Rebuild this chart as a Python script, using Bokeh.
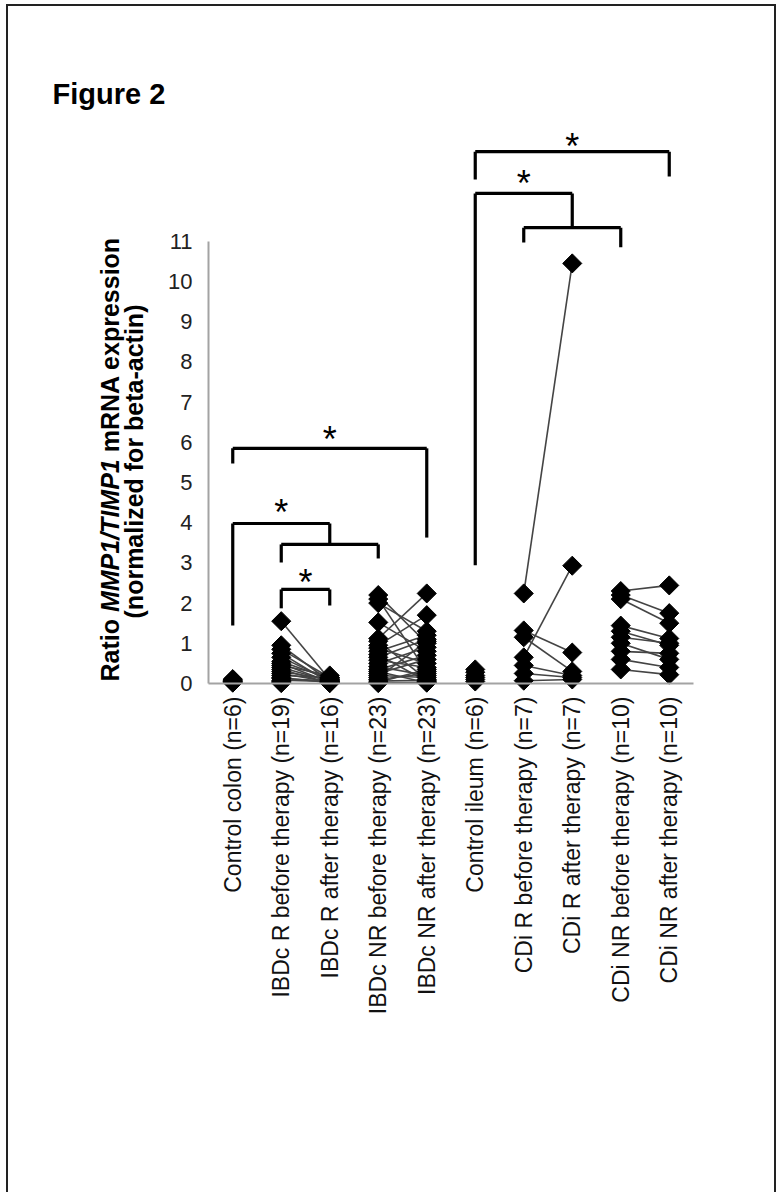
import math
from bokeh.plotting import figure
from bokeh.models import Range1d, FixedTicker, Label, LinearAxis
from bokeh.core.properties import value
from bokeh.embed import file_html
from bokeh.resources import INLINE

# ---------------- data ----------------
categories = [
    "Control colon (n=6)",
    "IBDc R before therapy (n=19)",
    "IBDc R after therapy (n=16)",
    "IBDc NR before therapy (n=23)",
    "IBDc NR after therapy (n=23)",
    "Control ileum (n=6)",
    "CDi R before therapy (n=7)",
    "CDi R after therapy (n=7)",
    "CDi NR before therapy (n=10)",
    "CDi NR after therapy (n=10)",
]
y_ticks = list(range(0, 12))

control_colon = [0.02, 0.04, 0.05, 0.07, 0.09, 0.11]
ibdc_r_before = [1.55, 0.95, 0.85, 0.75, 0.65, 0.55, 0.5, 0.45, 0.4, 0.35,
                 0.3, 0.25, 0.2, 0.15, 0.12, 0.08, 0.05, 0.03, 0.01]
ibdc_r_after = [0.1, 0.05, 0.15, 0.02, 0.08, 0.12, 0.03, 0.2, 0.06, 0.01,
                0.1, 0.04, 0.15, 0.02, 0.07, 0.05]
ibdc_nr_before = [2.2, 2.1, 2.0, 1.52, 1.12, 1.05, 0.95, 0.88, 0.8, 0.72, 0.65,
                  0.58, 0.5, 0.42, 0.35, 0.3, 0.25, 0.2, 0.15, 0.1, 0.06, 0.03, 0.01]
ibdc_nr_after = [1.0, 0.3, 1.3, 0.8, 2.24, 0.1, 1.7, 0.5, 1.2, 0.05, 1.1,
                 0.4, 0.9, 0.2, 0.7, 0.02, 0.6, 0.15, 1.05, 0.25, 0.08, 0.35, 0.03]
control_ileum = [0.05, 0.1, 0.15, 0.2, 0.28, 0.35]
cdi_r_before = [2.24, 1.32, 1.15, 0.65, 0.45, 0.25, 0.07]
cdi_r_after = [10.45, 0.77, 0.3, 2.93, 0.2, 0.15, 0.1]
cdi_nr_before = [2.3, 2.2, 2.1, 1.44, 1.3, 1.15, 1.0, 0.8, 0.6, 0.35]
cdi_nr_after = [2.44, 1.75, 1.5, 1.12, 0.95, 1.0, 0.6, 0.75, 0.4, 0.22]

# significance brackets: (left cat, right cat, top y, left drop y, right drop y)
brackets = [
    (0, 4, 5.85, 5.47, 3.63),
    (0, 2, 3.98, 1.44, 3.46),
    (1, 3, 3.46, 3.01, 3.11),
    (1, 2, 2.34, 1.87, 1.94),
    (5, 9, 13.23, 12.54, 12.61),
    (5, 7, 12.19, 2.94, 11.34),
    (6, 8, 11.34, 10.97, 10.85),
]
star_x = [2.0, 1.0, 1.5, 7.0, 6.0]          # category index positions
star_y = [6.17, 4.35, 2.61, 13.46, 12.54]

# ---------------- geometry ----------------
W, H = 776, 1192
PX_Y = 40.2        # pixels per y unit
PX_X = 48.5        # pixels per category
AX_LEFT, AX_BOTTOM = 208, 683   # page position of axes origin


def sx(page_x):
    return (page_x - AX_LEFT) / PX_X - 0.5


def sy(page_y):
    return (AX_BOTTOM - page_y) / PX_Y


p = figure(
    width=W, height=H,
    x_range=Range1d(sx(0), sx(W)),
    y_range=Range1d(sy(H), sy(0)),
    output_backend="svg", toolbar_location=None,
    x_axis_location=None, y_axis_location=None,
    min_border_left=0, min_border_right=0, min_border_top=0, min_border_bottom=0,
)
p.styles = {"box-shadow": "inset 0 4px 0 #fff, inset 6px 0 0 #fff, inset 8px 0 0 #222, "
                          "inset 0 6px 0 #222, inset -2px 0 0 #222"}
p.grid.visible = False
p.outline_line_color = None
p.background_fill_color = None
p.border_fill_color = None

axis_gray = "#a3a3a3"
xaxis = LinearAxis(
    ticker=FixedTicker(ticks=list(range(len(categories)))),
    major_label_overrides={i: c for i, c in enumerate(categories)},
    fixed_location=0, bounds=(-0.5, len(categories) - 0.5),
    axis_line_color=axis_gray, axis_line_width=2,
    major_tick_line_color=None, minor_tick_line_color=None,
    major_tick_out=0, major_tick_in=0,
    major_label_orientation=math.pi / 2, major_label_standoff=13,
    major_label_text_font="Liberation Sans", major_label_text_font_size="23px",
    major_label_text_color="#111",
)
yaxis = LinearAxis(
    ticker=FixedTicker(ticks=y_ticks),
    fixed_location=-0.5, bounds=(0, 11),
    axis_line_color=axis_gray, axis_line_width=2,
    major_tick_line_color=None, minor_tick_line_color=None,
    major_tick_out=0, major_tick_in=0,
    major_label_standoff=16,
    major_label_text_font="Liberation Sans", major_label_text_font_size="22px",
    major_label_text_color="#222",
)
p.add_layout(xaxis, "below")
p.add_layout(yaxis, "left")

# paired lines
line_col = "#444444"
pairs = [
    (1, 2, ibdc_r_before, ibdc_r_after),
    (3, 4, ibdc_nr_before, ibdc_nr_after),
    (6, 7, cdi_r_before, cdi_r_after),
    (8, 9, cdi_nr_before, cdi_nr_after),
]
for ib, ia, before, after in pairs:
    n = min(len(before), len(after))
    p.segment(x0=[ib] * n, y0=before[:n], x1=[ia] * n, y1=after[:n],
              line_color=line_col, line_width=1.6)

# markers
groups = [control_colon, ibdc_r_before, ibdc_r_after, ibdc_nr_before, ibdc_nr_after,
          control_ileum, cdi_r_before, cdi_r_after, cdi_nr_before, cdi_nr_after]
for i, vals in enumerate(groups):
    p.scatter(x=[i] * len(vals), y=vals, marker="square", angle=math.pi / 4,
              size=13.5, fill_color="black", line_color="black")

# brackets
bx0, by0, bx1, by1 = [], [], [], []
for il, ir, top, yl, yr in brackets:
    bx0 += [il, il, ir]
    by0 += [yl, top, top]
    bx1 += [il, ir, ir]
    by1 += [top, top, yr]
p.segment(x0=bx0, y0=by0, x1=bx1, y1=by1, line_color="black", line_width=3.2)

p.text(x=star_x, y=star_y, text=["*"] * len(star_x),
       text_font=value("Liberation Sans"), text_font_size="36px",
       text_align="center", text_baseline="alphabetic", y_offset=4,
       text_color="black")

# title
p.add_layout(Label(x=sx(52), y=sy(93), text="Figure 2", text_font="Liberation Sans",
                   text_font_style="bold", text_font_size="29px",
                   text_align="left", text_baseline="alphabetic", text_color="black"))

# y-axis title (two lines, with italic gene names)
F = 25.0
w_ratio = 2778 * F / 1000
w_mmp = 6112 * F / 1000
w_space = 278 * F / 1000
start = 681
for txt, py, style in [
    ("Ratio", start, "bold"),
    ("MMP1/TIMP1", start - w_ratio, "bold italic"),
    ("mRNA expression", start - w_ratio - w_mmp - w_space, "bold"),
]:
    p.add_layout(Label(x=sx(109), y=sy(py), text=txt,
                       angle=math.pi / 2, text_font="Liberation Sans",
                       text_font_style=style, text_font_size=f"{F}px",
                       text_align="left", text_baseline="middle", text_color="black"))
p.add_layout(Label(x=sx(133), y=sy(461),
                   text="(normalized for beta-actin)", angle=math.pi / 2,
                   text_font="Liberation Sans", text_font_style="bold",
                   text_font_size=f"{F}px", text_align="center",
                   text_baseline="middle", text_color="black"))

open("out.html", "w").write(file_html(p, INLINE))
